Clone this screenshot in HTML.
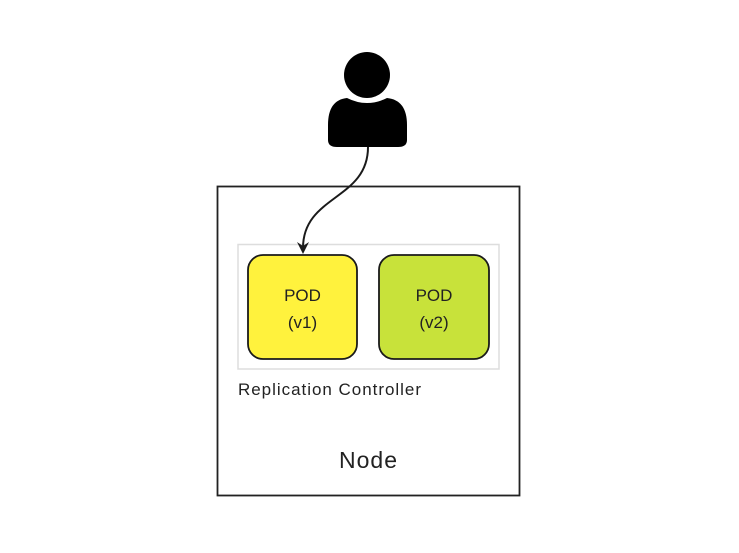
<!DOCTYPE html>
<html><head><style>
body{margin:0;background:#fff;width:739px;height:548px;overflow:hidden}
</style></head><body>
<svg width="739" height="548" xmlns="http://www.w3.org/2000/svg" font-family="Liberation Sans, sans-serif">
<rect x="217.5" y="186.5" width="302" height="309" fill="#fff" stroke="#222" stroke-width="1.8"/>
<rect x="238" y="244.5" width="261" height="124.5" fill="#fff" stroke="#ddd" stroke-width="1.5"/>
<rect x="248" y="255" width="109" height="104" rx="15" fill="#fff23d" stroke="#1a1a1a" stroke-width="1.8"/>
<rect x="379" y="255" width="110" height="104" rx="15" fill="#c8e23a" stroke="#1a1a1a" stroke-width="1.8"/>
<text x="302.5" y="301" font-size="17" text-anchor="middle" fill="#222">POD</text>
<text x="302.5" y="328" font-size="17" text-anchor="middle" fill="#222">(v1)</text>
<text x="434" y="301" font-size="17" text-anchor="middle" fill="#222">POD</text>
<text x="434" y="328" font-size="17" text-anchor="middle" fill="#222">(v2)</text>
<text x="238" y="395" font-size="17" fill="#222" textLength="183">Replication Controller</text>
<text x="339" y="468" font-size="23" fill="#222" textLength="58">Node</text>
<circle cx="367" cy="75" r="23" fill="#000"/>
<path d="M347 98 Q367 108 387 98 Q407 100 407 125 L407 140 Q407 147 398 147 L337 147 Q328 147 328 140 L328 125 Q328 100 347 98 Z" fill="#000"/>
<path d="M368 147 C368 200 303 195 303 248" fill="none" stroke="#1a1a1a" stroke-width="2"/>
<path d="M297 242 L303 254 L309 242 L303 246 Z" fill="#1a1a1a"/>
</svg>
</body></html>
